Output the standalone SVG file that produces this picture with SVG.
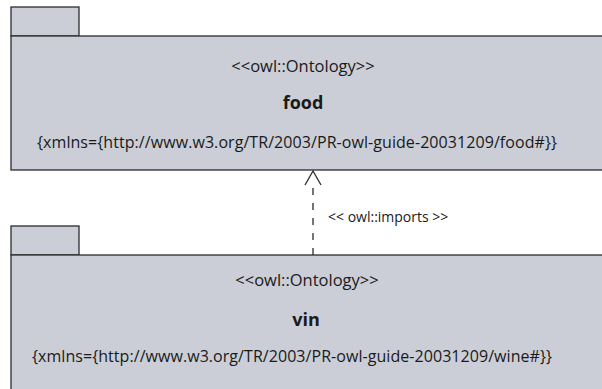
<svg xmlns="http://www.w3.org/2000/svg" width="602" height="389" viewBox="0 0 602 389">
<style>
.pk{fill:#cbced6;stroke:#2b2b2b;stroke-width:1.3}
.st{font-family:"Open Sans","Liberation Sans",sans-serif;font-size:16.5px;fill:#1a1a1a;text-anchor:middle}
.nm{font-family:"Open Sans","Liberation Sans",sans-serif;font-size:18px;font-weight:bold;fill:#1a1a1a;text-anchor:middle}
.ns{font-family:"Open Sans","Liberation Sans",sans-serif;font-size:16px;fill:#1a1a1a;text-anchor:middle}
.lb{font-family:"Open Sans","Liberation Sans",sans-serif;font-size:14px;fill:#1a1a1a}
</style>
<rect width="602" height="389" fill="#fff"/>
<g id="food">
<rect class="pk" x="11" y="7" width="68" height="29"/>
<rect class="pk" x="11" y="36" width="600" height="134"/>
<text class="st" x="303" y="72">&lt;&lt;owl::Ontology&gt;&gt;</text>
<text class="nm" x="303" y="109">food</text>
<text class="ns" x="297" y="148" textLength="520">{xmlns={http://www.w3.org/TR/2003/PR-owl-guide-20031209/food#}}</text>
</g>
<g id="vin">
<rect class="pk" x="11" y="226" width="68" height="29"/>
<rect class="pk" x="11" y="255" width="600" height="150"/>
<text class="st" x="307" y="286">&lt;&lt;owl::Ontology&gt;&gt;</text>
<text class="nm" x="306" y="326">vin</text>
<text class="ns" x="292" y="362" textLength="520">{xmlns={http://www.w3.org/TR/2003/PR-owl-guide-20031209/wine#}}</text>
</g>
<g id="connectors">
<line x1="313" y1="255" x2="313" y2="184" stroke="#2b2b2b" stroke-width="1.3" stroke-dasharray="7,8"/>
<polyline points="305,185 313,171 321,185" fill="none" stroke="#2b2b2b" stroke-width="1.3"/>
<text class="lb" x="328" y="222">&lt;&lt; owl::imports  &gt;&gt;</text>
</g>
</svg>
